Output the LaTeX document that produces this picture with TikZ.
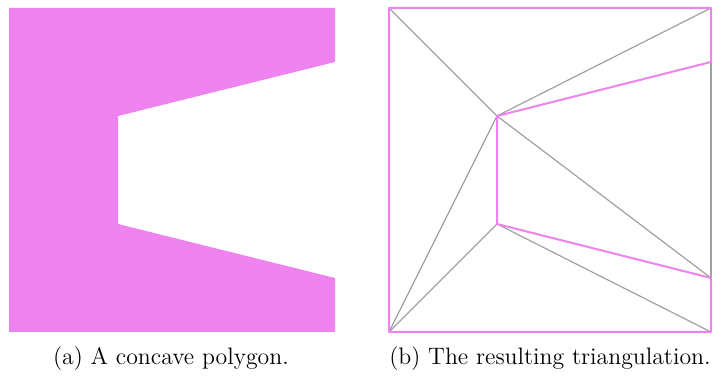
\documentclass[tikz,border=0pt]{standalone}
\usepackage{tikz}
\usetikzlibrary{positioning}
\definecolor{polyviolet}{RGB}{238,130,238}
\definecolor{diaggray}{RGB}{160,160,160}
\begin{document}
\begin{tikzpicture}[x=0.5pt,y=-0.5pt,
  border/.style={polyviolet,line width=1pt,line cap=round,line join=round},
  diag/.style={diaggray,line width=0.6pt},
  caption/.style={font=\fontsize{11.9}{14}\selectfont}]
\useasboundingbox (0,0) rectangle (714,379);
% (a) the concave polygon
\fill[polyviolet] (9,8) -- (335,8) -- (335,62) -- (118,116) -- (118,224)
  -- (335,278) -- (335,332) -- (9,332) -- cycle;
% (b) vertices of the same polygon
\coordinate (tl) at (389,8);
\coordinate (tr) at (711,8);
\coordinate (ru) at (711,62);
\coordinate (iu) at (497,116);
\coordinate (il) at (497,224);
\coordinate (rl) at (711,278);
\coordinate (br) at (711,332);
\coordinate (bl) at (389,332);
% diagonals of the triangulation
\draw[diag] (tl) -- (iu) -- (tr);
\draw[diag] (ru) -- (rl);
\draw[diag] (iu) -- (rl);
\draw[diag] (il) -- (br);
\draw[diag] (bl) -- (iu);
\draw[diag] (bl) -- (il);
% polygon boundary
\draw[border] (tl) -- (tr) -- (ru) -- (iu) -- (il) -- (rl) -- (br) -- (bl) -- cycle;
\node[caption] (capa) at (171,359) {(a) A concave polygon.};
\node[caption] (capb) at (550,359) {(b) The resulting triangulation.};
\end{tikzpicture}
\end{document}
